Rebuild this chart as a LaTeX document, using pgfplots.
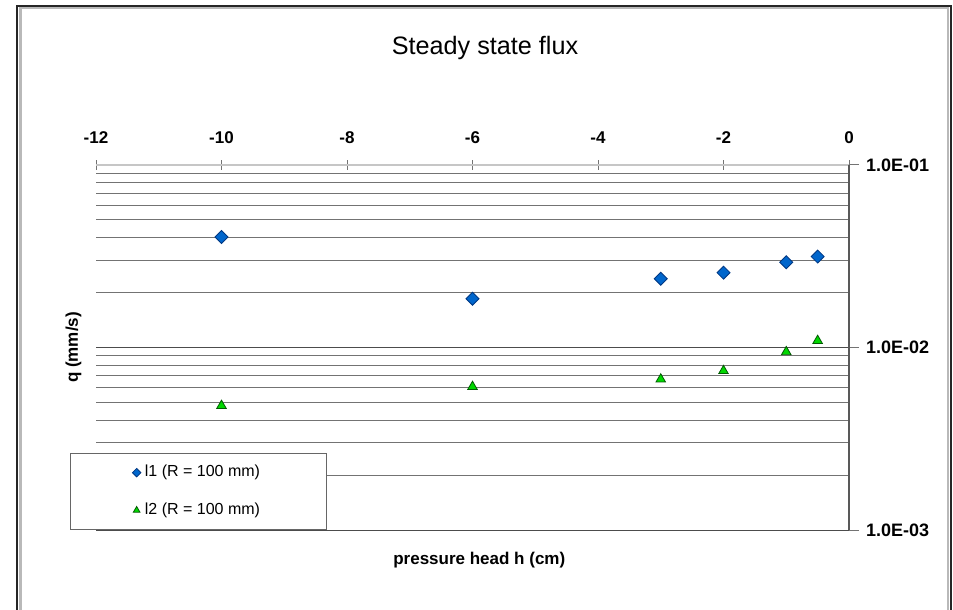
\documentclass[border=0pt]{standalone}
\usepackage{pgfplots}
\pgfplotsset{compat=1.18}
\usepackage{fontspec}
\setmainfont{Liberation Sans}
\definecolor{dblue}{RGB}{0,102,204}
\definecolor{dblueedge}{RGB}{0,55,130}
\definecolor{tgreen}{RGB}{0,215,0}
\definecolor{tgreenedge}{RGB}{0,90,0}
\pgfplotsset{
  legdiam/.style={legend image code/.code={\draw[##1, mark size=1.5pt] plot coordinates {(0pt,0pt)};}},
  legtri/.style={legend image code/.code={\draw[##1, mark size=1.9pt] plot coordinates {(0pt,0pt)};}},
}
\begin{document}
\begin{tikzpicture}
\path[use as bounding box] (0,0) rectangle (476.5pt,305pt);
\draw[black!85,line width=1pt] (8.6pt,-10pt) -- (8.6pt,302.1pt) -- (475.25pt,302.1pt) -- (475.25pt,-10pt);
\draw[gray!55,line width=1.2pt] (10.2pt,-10pt) -- (10.2pt,301pt) -- (473.9pt,301pt) -- (473.9pt,-10pt);
\node[font=\fontsize{12.6}{14}\selectfont, anchor=base] at (242.5pt,277.5pt) {Steady state flux};
\begin{axis}[
  at={(48pt,40pt)}, anchor=south west,
  scale only axis, width=376.5pt, height=182.5pt,
  xmin=-12, xmax=0, ymin=1e-3, ymax=1e-1,
  ymode=log,
  axis x line*=top, axis y line*=right,
  x axis line style={gray!45, line width=1pt},
  y axis line style={black!65, line width=0.6pt},
  xtick={-12,-10,-8,-6,-4,-2,0},
  xticklabels={-12,-10,-8,-6,-4,-2,0},
  ytick={1e-3,1e-2,1e-1},
  yticklabels={1.0E-03,1.0E-02,1.0E-01},
  xtick align=center, ytick align=outside,
  major tick length=5pt, minor tick length=0pt,
  tick style={black!55, line width=0.5pt},
  ymajorgrids, yminorgrids,
  major grid style={black!70, line width=0.5pt},
  minor grid style={black!55, line width=0.5pt},
  x tick label style={font=\fontsize{8.5}{9}\selectfont\bfseries, yshift=4.5pt},
  y tick label style={font=\fontsize{9}{10}\selectfont\bfseries},
  xlabel={pressure head h (cm)},
  xlabel style={font=\fontsize{8.5}{10}\selectfont\bfseries, at={(axis description cs:0.509,-0.082)}, anchor=center},
  ylabel={q (mm/s)},
  ylabel style={font=\fontsize{8.5}{10}\selectfont\bfseries, at={(axis description cs:-0.030,0.5)}, anchor=center},
  legend style={at={(axis description cs:-0.0345,0.211)}, anchor=north west, draw=black!60, fill=white,
    font=\fontsize{8}{9.6}\selectfont, inner xsep=31pt, inner ysep=4pt, row sep=7.5pt, cells={anchor=west}},
  legend cell align=left,
  clip=false,
]
\addplot+[only marks, mark=square*, mark size=2.3pt,
  mark options={rotate=45, fill=dblue, draw=dblueedge, line width=0.4pt}, legdiam]
  coordinates {(-10,0.0403) (-6,0.0185) (-3,0.0238) (-2,0.0257) (-1,0.0293) (-0.5,0.0315)};
\addlegendentry{l1 (R = 100 mm)}
\addplot+[only marks, mark=triangle*, mark size=2.75pt,
  mark options={fill=tgreen, draw=tgreenedge, line width=0.4pt}, legtri]
  coordinates {(-10,0.0048) (-6,0.0061) (-3,0.0067) (-2,0.00745) (-1,0.00946) (-0.5,0.0109)};
\addlegendentry{l2 (R = 100 mm)}
\end{axis}
\end{tikzpicture}
\end{document}
